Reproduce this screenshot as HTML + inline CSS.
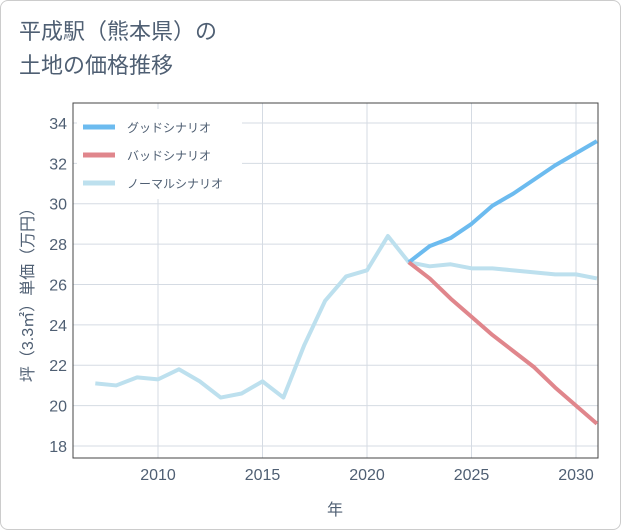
<!DOCTYPE html>
<html><head><meta charset="utf-8"><style>
body{margin:0;background:#fff;font-family:"Liberation Sans","Noto Sans CJK JP",sans-serif;}
#card{position:absolute;left:0;top:0;width:619px;height:528px;border:1px solid #ccc;border-radius:8px;background:#fff;}
#title{position:absolute;left:18px;top:14px;font-size:22px;line-height:34px;color:#4f5f73;}
</style></head><body>
<div id="card">
<div id="title">平成駅（熊本県）の<br>土地の価格推移</div>
<svg id="chart" width="621" height="530" style="position:absolute;left:0;top:0"></svg>
</div>
<script>
const years=[2007,2008,2009,2010,2011,2012,2013,2014,2015,2016,2017,2018,2019,2020,2021,2022,2023,2024,2025,2026,2027,2028,2029,2030,2031];
const normal=[21.1,21.0,21.4,21.3,21.8,21.2,20.4,20.6,21.2,20.4,23.0,25.2,26.4,26.7,28.4,27.1,26.9,27.0,26.8,26.8,26.7,26.6,26.5,26.5,26.3];
const goodYears=[2022,2023,2024,2025,2026,2027,2028,2029,2030,2031];
const good=[27.1,27.9,28.3,29.0,29.9,30.5,31.2,31.9,32.5,33.1];
const bad=[27.1,26.3,25.3,24.4,23.5,22.7,21.9,20.9,20.0,19.1];
const xTicks=[2010,2015,2020,2025,2030];
const yTicks=[18,20,22,24,26,28,30,32,34];
const legendLabels=["グッドシナリオ","バッドシナリオ","ノーマルシナリオ"];
const colors=["#6cbbef","#e0868c","#bde0ee"];
const TXT='#4f5f73';
const L=72,R=597,T=102,B=457;
const x=y=>157+(y-2010)*20.9;
const yy=v=>445-(v-18)*20.19;
const svg=document.getElementById('chart');
const NS='http://www.w3.org/2000/svg';
function mk(t,a){const e=document.createElementNS(NS,t);for(const k in a)e.setAttribute(k,a[k]);svg.appendChild(e);return e;}
xTicks.forEach(t=>{const l=mk('line',{x1:x(t),x2:x(t),y1:T,y2:B,stroke:'#d5dbe3'});


const s=mk('text',{x:x(t),y:479,'text-anchor':'middle','font-size':16,fill:TXT});s.textContent=t;

});
yTicks.forEach(t=>{const l=mk('line',{x1:L,x2:R,y1:yy(t),y2:yy(t),stroke:'#d5dbe3'});


const s=mk('text',{x:66,y:yy(t)+6,'text-anchor':'end','font-size':16,fill:TXT});s.textContent=t;

});
const fr=mk('rect',{x:L,y:T,width:R-L,height:B-T,fill:'none',stroke:'#444'});


function line(xs,vs,c,n){const p=mk('polyline',{points:xs.map((v,i)=>x(v)+','+yy(vs[i])).join(' '),fill:'none',stroke:c,'stroke-width':4,'stroke-linejoin':'round'});

}
line(years,normal,colors[2],'normal-line');
line(goodYears,good,colors[0],'good-line');
line(goodYears,bad,colors[1],'bad-line');
const lg=mk('rect',{x:76,y:108,width:165,height:90,fill:'#fff'});


legendLabels.forEach((s,i)=>{const l=mk('line',{x1:82,x2:114,y1:126+i*28,y2:126+i*28,stroke:colors[i],'stroke-width':5});


const t=mk('text',{x:126,y:131+i*28,'font-size':12,fill:TXT});t.textContent=s;

});
const xt=mk('text',{x:334,y:514,'text-anchor':'middle','font-size':16,fill:TXT});xt.textContent='年';


const yt=mk('text',{x:0,y:0,'text-anchor':'middle','font-size':16,fill:TXT,transform:'translate(32,290) rotate(-90)'});yt.textContent='坪（3.3㎡）単価（万円）';


</script>
</body></html>
